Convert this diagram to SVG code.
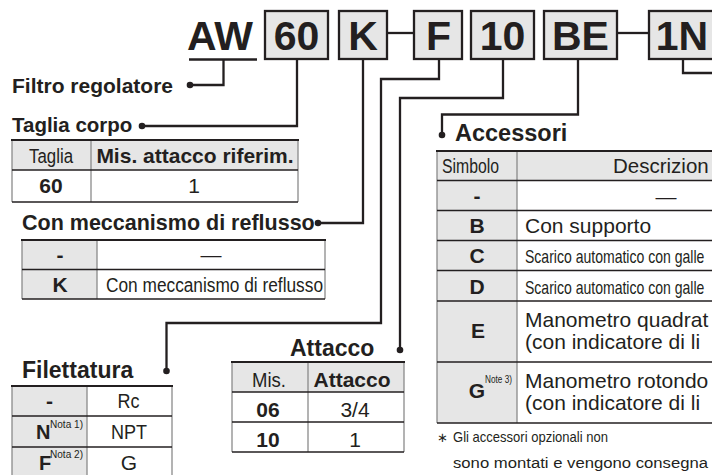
<svg xmlns="http://www.w3.org/2000/svg" width="712" height="475" viewBox="0 0 712 475">
<style>
text{font-family:"Liberation Sans",Arial,Helvetica,sans-serif;fill:#231f20}
.b{font-weight:bold}
.code{font-weight:bold;font-size:41px;text-anchor:middle}
.box{fill:#e6e6e6;stroke:#231f20;stroke-width:2.3}
.con{fill:none;stroke:#231f20;stroke-width:2.3}
.dot{fill:#231f20}
.hd{font-weight:bold}
.g{fill:#e6e6e6}
.hl{stroke:#231f20;stroke-width:1.3}
.top{stroke:#231f20;stroke-width:2.2}
.vl{stroke:#8a8a8a;stroke-width:1.3}
.c{text-anchor:middle}
.t21{font-size:21px}
.sup{font-size:11px}
</style>

<g id="connectors">
  <polyline class="con" points="189,59.5 257,59.5"/>
  <polyline class="con" points="223.5,59.5 223.5,85 190,85"/>
  <circle class="dot" cx="190" cy="85" r="3.3"/>
  <polyline class="con" points="297,60 297,126 142,126"/>
  <circle class="dot" cx="142" cy="126" r="3.3"/>
  <polyline class="con" points="363,60 363,223 318,223"/>
  <circle class="dot" cx="318" cy="223" r="3.3"/>
  <polyline class="con" points="388,33 413,33"/>
  <polyline class="con" points="439,60 439,79 381,79 381,323 166.5,323 166.5,371"/>
  <circle class="dot" cx="166.5" cy="371" r="3.3"/>
  <polyline class="con" points="503,60 503,98 400,98 400,350"/>
  <circle class="dot" cx="400" cy="350" r="3.3"/>
  <polyline class="con" points="618,33 648,33"/>
  <polyline class="con" points="578,60 578,114.5 442,114.5 442,135"/>
  <circle class="dot" cx="442" cy="135" r="3.3"/>
  <polyline class="con" points="683,60 683,73 714,73"/>
</g>

<g id="code">
  <text class="b" x="187" y="50" font-size="41">AW</text>
  <g id="box-60"><rect class="box" x="265" y="11" width="63" height="48"/><text class="code" x="296.5" y="50">60</text></g>
  <g id="box-K"><rect class="box" x="339" y="11" width="48" height="48"/><text class="code" x="363" y="50">K</text></g>
  <g id="box-F"><rect class="box" x="414" y="11" width="48" height="48"/><text class="code" x="438.5" y="50">F</text></g>
  <g id="box-10"><rect class="box" x="471" y="11" width="63" height="48"/><text class="code" x="502.5" y="50">10</text></g>
  <g id="box-BE"><rect class="box" x="544" y="11" width="73" height="48"/><text class="code" x="580.5" y="50">BE</text></g>
  <g id="box-1N"><rect class="box" x="649" y="11" width="66" height="48"/><text class="code" x="682" y="50">1N</text></g>
</g>

<g id="filtro">
  <text class="hd" x="12" y="93" font-size="21">Filtro regolatore</text>
</g>

<g id="taglia">
  <text class="hd" x="12" y="131.5" font-size="20.5">Taglia corpo</text>
  <rect class="g" x="12" y="140" width="286" height="30"/>
  <line class="vl" x1="12" y1="140" x2="12" y2="202"/>
  <line class="vl" x1="298" y1="140" x2="298" y2="202"/>
  <line class="vl" x1="91" y1="140" x2="91" y2="202"/>
  <line class="top" x1="11" y1="140" x2="299" y2="140"/>
  <line class="hl" x1="12" y1="170" x2="298" y2="170"/>
  <line class="hl" x1="12" y1="202" x2="298" y2="202"/>
  <text class="c" x="51" y="162.5" font-size="19.5" textLength="44" lengthAdjust="spacingAndGlyphs">Taglia</text>
  <text class="c b t21" x="195" y="162.5">Mis. attacco riferim.</text>
  <text class="c b t21" x="51" y="193">60</text>
  <text class="c t21" x="194" y="193">1</text>
</g>

<g id="reflusso">
  <text class="hd" x="22" y="229.5" font-size="21.5">Con meccanismo di reflusso</text>
  <rect class="g" x="22" y="240" width="75" height="59"/>
  <line class="vl" x1="22" y1="240" x2="22" y2="299"/>
  <line class="vl" x1="325" y1="240" x2="325" y2="299"/>
  <line class="vl" x1="97" y1="240" x2="97" y2="299"/>
  <line class="top" x1="21" y1="240" x2="326" y2="240"/>
  <line class="hl" x1="22" y1="269.5" x2="325" y2="269.5"/>
  <line class="hl" x1="22" y1="299" x2="325" y2="299"/>
  <text class="c b t21" x="60" y="262">-</text>
  <text class="c t21" x="211" y="262">—</text>
  <text class="c b t21" x="60" y="292">K</text>
  <text class="c" x="214.5" y="292" font-size="20" textLength="217" lengthAdjust="spacingAndGlyphs">Con meccanismo di reflusso</text>
</g>

<g id="filettatura">
  <text class="hd" x="22" y="378" font-size="23">Filettatura</text>
  <rect class="g" x="12" y="386" width="75" height="89"/>
  <line class="vl" x1="12" y1="386" x2="12" y2="475"/>
  <line class="vl" x1="172" y1="386" x2="172" y2="475"/>
  <line class="vl" x1="87" y1="386" x2="87" y2="475"/>
  <line class="top" x1="11" y1="386" x2="173" y2="386"/>
  <line class="hl" x1="12" y1="416" x2="172" y2="416"/>
  <line class="hl" x1="12" y1="447" x2="172" y2="447"/>
  <text class="c b t21" x="49.5" y="408">-</text>
  <text class="c t21" x="128.5" y="408" textLength="22" lengthAdjust="spacingAndGlyphs">Rc</text>
  <text class="b" x="36" y="439" font-size="20">N</text>
  <text class="sup" x="50" y="428" textLength="33" lengthAdjust="spacingAndGlyphs">Nota 1)</text>
  <text class="c t21" x="129" y="439" textLength="36" lengthAdjust="spacingAndGlyphs">NPT</text>
  <text class="b" x="39" y="469.5" font-size="20">F</text>
  <text class="sup" x="50" y="458" textLength="33" lengthAdjust="spacingAndGlyphs">Nota 2)</text>
  <text class="c t21" x="129" y="469.5">G</text>
</g>

<g id="attacco">
  <text class="hd" x="290" y="356" font-size="23">Attacco</text>
  <rect class="g" x="232" y="362" width="172" height="30"/>
  <line class="vl" x1="232" y1="362" x2="232" y2="452"/>
  <line class="vl" x1="404" y1="362" x2="404" y2="452"/>
  <line class="vl" x1="308" y1="362" x2="308" y2="452"/>
  <line class="top" x1="231" y1="362" x2="405" y2="362"/>
  <line class="hl" x1="232" y1="392" x2="404" y2="392"/>
  <line class="hl" x1="232" y1="422" x2="404" y2="422"/>
  <line class="hl" x1="232" y1="452" x2="404" y2="452"/>
  <text class="c" x="269" y="387" font-size="20" textLength="34" lengthAdjust="spacingAndGlyphs">Mis.</text>
  <text class="c b t21" x="352" y="387">Attacco</text>
  <text class="c b t21" x="268" y="417">06</text>
  <text class="c t21" x="355" y="417">3/4</text>
  <text class="c b t21" x="268" y="447">10</text>
  <text class="c t21" x="355" y="447">1</text>
</g>

<g id="accessori">
  <text class="hd" x="455" y="141" font-size="23.5">Accessori</text>
  <rect class="g" x="437" y="151" width="280" height="29.5"/>
  <rect class="g" x="437" y="180.5" width="80" height="242.5"/>
  <line class="vl" x1="437" y1="151" x2="437" y2="423"/>
  <line class="vl" x1="517" y1="151" x2="517" y2="423"/>
  <line class="top" x1="436" y1="151" x2="712" y2="151"/>
  <line class="hl" x1="437" y1="180.5" x2="712" y2="180.5"/>
  <line class="hl" x1="437" y1="210.5" x2="712" y2="210.5"/>
  <line class="hl" x1="437" y1="240.5" x2="712" y2="240.5"/>
  <line class="hl" x1="437" y1="270.5" x2="712" y2="270.5"/>
  <line class="hl" x1="437" y1="301" x2="712" y2="301"/>
  <line class="hl" x1="437" y1="362" x2="712" y2="362"/>
  <line class="hl" x1="437" y1="423" x2="712" y2="423"/>
  <text class="c" x="470.5" y="173" font-size="20" textLength="57" lengthAdjust="spacingAndGlyphs">Simbolo</text>
  <text x="613" y="173" font-size="20.5">Descrizion</text>
  <text class="c b t21" x="477" y="203">-</text>
  <text class="c t21" x="666" y="203.5">—</text>
  <text class="c b t21" x="477" y="233">B</text>
  <text class="t21" x="525" y="233">Con supporto</text>
  <text class="c b t21" x="477" y="263">C</text>
  <text transform="translate(525,263) scale(0.78,1)" font-size="18">Scarico automatico con galle</text>
  <text class="c b t21" x="477" y="293.5">D</text>
  <text transform="translate(525,293.5) scale(0.78,1)" font-size="18">Scarico automatico con galle</text>
  <text class="c b t21" x="478" y="338">E</text>
  <text class="t21" x="525" y="327">Manometro quadrat</text>
  <text class="t21" x="525" y="348.5">(con indicatore di li</text>
  <text class="c b t21" x="477" y="398">G</text>
  <text class="sup" x="485" y="383" textLength="27" lengthAdjust="spacingAndGlyphs">Note 3)</text>
  <text class="t21" x="525" y="388">Manometro rotondo</text>
  <text class="t21" x="525" y="409.5">(con indicatore di li</text>
  <text x="437" y="442" font-size="13">∗</text>
  <text x="453" y="442" font-size="15" textLength="155" lengthAdjust="spacingAndGlyphs">Gli accessori opzionali non</text>
  <text x="453" y="468" font-size="15.5" textLength="255" lengthAdjust="spacingAndGlyphs">sono montati e vengono consegna</text>
</g>
</svg>
